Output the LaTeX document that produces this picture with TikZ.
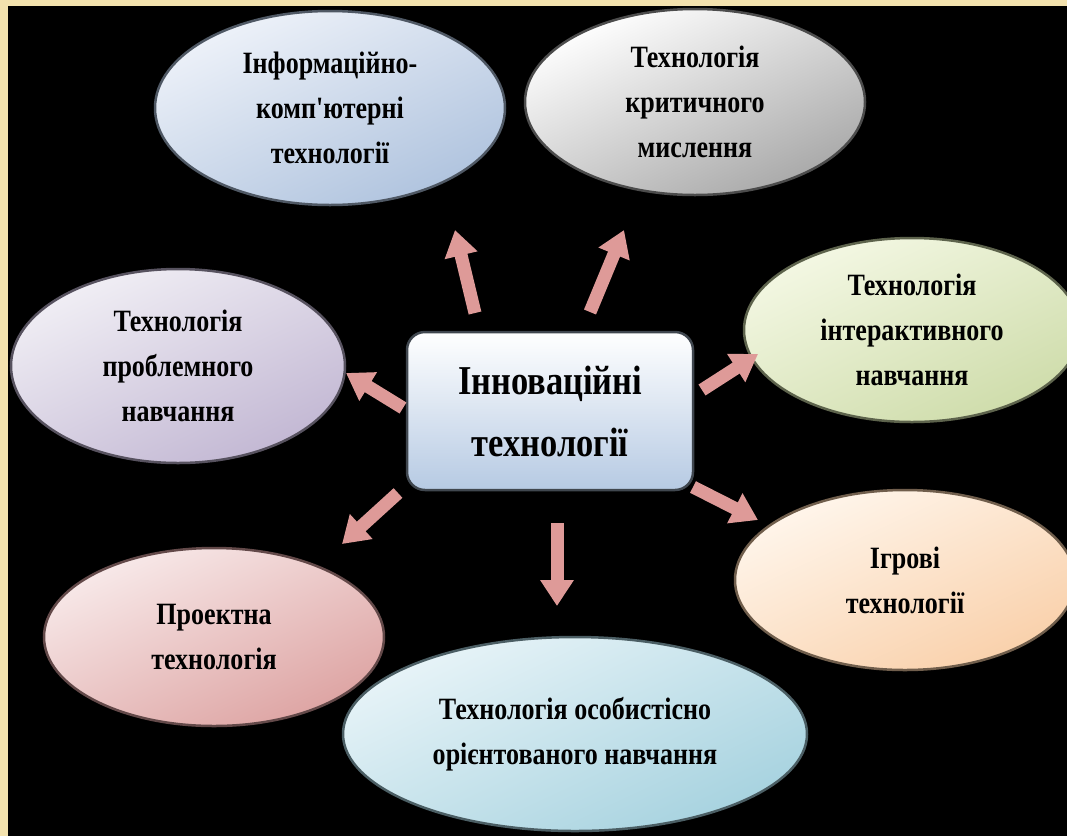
\documentclass[tikz,border=0pt]{standalone}
\usepackage{fontspec}
\setmainfont{Liberation Serif}
\newfontfamily\titlefont[FakeStretch=0.84]{Liberation Serif}
\usepackage{xcolor}
\usetikzlibrary{arrows.meta,calc,shapes.geometric}
\definecolor{framecream}{HTML}{F3E2AE}
\definecolor{arrowpink}{HTML}{DE9A98}
\definecolor{blueA}{HTML}{EEF2F9}\definecolor{blueB}{HTML}{AFC3DE}
\definecolor{greyA}{HTML}{FFFFFF}\definecolor{greyB}{HTML}{A8A8A8}
\definecolor{greenA}{HTML}{F4F8E4}\definecolor{greenB}{HTML}{CEDCAA}
\definecolor{violetA}{HTML}{F1EFF5}\definecolor{violetB}{HTML}{C2B7D3}
\definecolor{orangeA}{HTML}{FFF6EC}\definecolor{orangeB}{HTML}{F9D0AA}
\definecolor{pinkA}{HTML}{F8EAEA}\definecolor{pinkB}{HTML}{DDA3A2}
\definecolor{cyanA}{HTML}{E8F4F8}\definecolor{cyanB}{HTML}{A6D2DF}
\definecolor{boxB}{HTML}{B6CAE3}
\tikzset{>=latex}
\tikzset{
  oval/.style={ellipse, inner sep=0pt, align=center, text=black,
    font=\titlefont\bfseries\fontsize{31}{45}\selectfont, line width=2.5pt},
  tint/.style 2 args={top color=#1, bottom color=#2, shading angle=25,
    draw=#2!45!black},
  centrebox/.style={rectangle, rounded corners=18pt, align=center,
    minimum width=286pt, minimum height=158pt, line width=2.5pt,
    draw=boxB!35!black, top color=white, bottom color=boxB,
    font=\titlefont\bfseries\fontsize{41}{62}\selectfont},
  blockarrow/.style={draw=arrowpink, line width=13pt,
    -{Triangle[width=32pt,length=26pt]}}
}

\begin{document}
\begin{tikzpicture}[x=1pt,y=-1pt]
  \useasboundingbox (0,0) rectangle (1067,836);
  % Background
  \fill[framecream] (0,0) rectangle (1067,836);
  \fill[black] (8,6) rectangle (1067,836);

  % Vertices
  \coordinate (t1) at (475,313);
  \coordinate (h1) at (455,230);
  \coordinate (t2) at (590,312);
  \coordinate (h2) at (624,230);
  \coordinate (t3) at (403,408);
  \coordinate (h3) at (346,373);
  \coordinate (t4) at (702,390);
  \coordinate (h4) at (758,354);
  \coordinate (t5) at (398,493);
  \coordinate (h5) at (342,544);
  \coordinate (t6) at (557,523);
  \coordinate (h6) at (557,606);
  \coordinate (t7) at (693,487);
  \coordinate (h7) at (758,520);

  % Ellipses
  \node[oval, minimum width=350pt, minimum height=194pt, tint={blueA}{blueB}]
    (ict) at (330,108) {Інформаційно-\\комп'ютерні\\технології};
  \node[oval, minimum width=340pt, minimum height=186pt, tint={greyA}{greyB}]
    (crit) at (695,102) {Технологія\\критичного\\мислення};
  \node[oval, minimum width=336pt, minimum height=184pt, tint={greenA}{greenB}]
    (inter) at (912,330) {Технологія\\інтерактивного\\навчання};
  \node[oval, minimum width=334pt, minimum height=194pt, tint={violetA}{violetB}]
    (probl) at (178,366) {Технологія\\проблемного\\навчання};
  \node[oval, minimum width=340pt, minimum height=180pt, tint={orangeA}{orangeB}]
    (game) at (905,580) {Ігрові\\технології};
  \node[oval, minimum width=340pt, minimum height=178pt, tint={pinkA}{pinkB}]
    (proj) at (214,637) {Проектна\\технологія};
  \node[oval, minimum width=464pt, minimum height=194pt, tint={cyanA}{cyanB}]
    (pers) at (575,734) {Технологія особистісно\\орієнтованого навчання};

  % Centre
  \node[centrebox] (centre) at (550,411) {Інноваційні\\технології};

  % Arrows
  \draw[blockarrow] (t1) -- (h1);
  \draw[blockarrow] (t2) -- (h2);
  \draw[blockarrow] (t3) -- (h3);
  \draw[blockarrow] (t4) -- (h4);
  \draw[blockarrow] (t5) -- (h5);
  \draw[blockarrow] (t6) -- (h6);
  \draw[blockarrow] (t7) -- (h7);
\end{tikzpicture}
\end{document}
